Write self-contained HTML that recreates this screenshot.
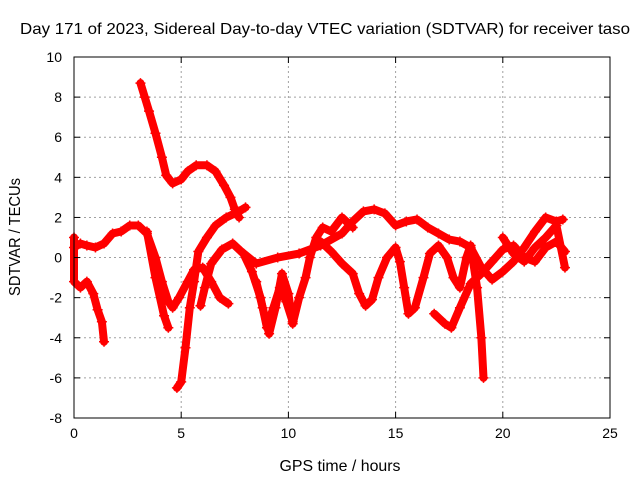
<!DOCTYPE html>
<html><head><meta charset="utf-8"><style>
body{margin:0;background:#fff}
svg{font-family:"Liberation Sans",sans-serif;font-size:14px}
</style></head><body>
<svg width="640" height="480" viewBox="0 0 640 480">
<rect width="640" height="480" fill="#fff"/>
<text x="325" y="34" text-anchor="middle" font-size="16" textLength="610" lengthAdjust="spacingAndGlyphs">Day 171 of 2023, Sidereal Day-to-day VTEC variation (SDTVAR) for receiver taso</text>
<text x="340" y="471" text-anchor="middle" font-size="16" textLength="121" lengthAdjust="spacingAndGlyphs">GPS time / hours</text>
<text transform="translate(20,237) rotate(-90)" text-anchor="middle" font-size="16" textLength="118" lengthAdjust="spacingAndGlyphs">SDTVAR / TECUs</text>
<g id="grid"></g><g id="marks"></g><g id="axes"></g>
<script>
const xTicks=[0,5,10,15,20,25];
const yTicks=[-8,-6,-4,-2,0,2,4,6,8,10];
const s1=[[3.1,8.7],[3.3,8.0],[3.5,7.3],[3.8,6.2],[4.1,5.0],[4.3,4.1],[4.6,3.7],[5.0,3.9],[5.3,4.3],[5.7,4.6],[6.2,4.6],[6.6,4.3],[7.0,3.6],[7.3,3.0],[7.5,2.4],[7.7,2.0]];
const s2=[[0,1.0],[0,-1.2],[0.3,-1.5],[0.6,-1.2],[0.9,-1.8],[1.1,-2.6],[1.3,-3.2],[1.4,-4.2]];
const s3=[[0,0.5],[0.3,0.7],[0.6,0.6],[1.0,0.5],[1.4,0.7],[1.8,1.2],[2.2,1.3],[2.6,1.6],[3.0,1.6],[3.4,1.2],[3.8,0],[4.1,-1.2],[4.4,-2.2],[4.6,-2.5],[4.9,-2.0],[5.3,-1.2],[5.6,-0.6],[6.0,-0.5],[6.4,-1.2],[6.8,-2.0],[7.2,-2.3]];
const s3b=[[3.4,1.3],[3.8,-1.0],[4.2,-2.9],[4.4,-3.5]];
const s4=[[4.8,-6.5],[5.0,-6.2],[5.2,-4.5],[5.4,-2.5],[5.6,-1.2],[5.8,0.3],[6.2,1.0],[6.6,1.6],[7.1,2.0],[7.7,2.3],[8.0,2.5]];
const s5=[[5.9,-2.4],[6.1,-1.5],[6.4,-0.3],[6.9,0.4],[7.4,0.7],[7.9,0.2],[8.3,-0.7],[8.7,-2.0],[9.0,-3.5],[9.3,-2.5],[9.6,-1.5],[9.9,-2.2],[10.2,-3.2]];
const s6=[[7.8,0.3],[8.5,-0.3],[9.5,0],[10.5,0.2],[11.5,0.6],[12.5,1.2],[13.0,1.8],[13.5,2.3],[14.0,2.4],[14.5,2.2],[15.0,1.6],[15.5,1.8],[16.0,1.9],[16.5,1.5],[17.0,1.2],[17.5,0.9],[18.0,0.8],[18.5,0.5],[19.0,-0.5],[19.5,-1.1],[20.0,-0.7],[20.5,-0.2],[21.0,0.5],[21.5,1.3],[22.0,2.0],[22.5,1.8],[22.8,1.9]];
const s7=[[11.5,0.8],[12.0,0.3],[12.5,-0.3],[13.0,-0.8],[13.3,-1.8],[13.6,-2.4],[13.9,-2.1],[14.2,-1.0],[14.6,0],[15.0,0.5],[15.2,-0.2],[15.4,-1.5],[15.6,-2.8],[15.9,-2.5],[16.3,-1.0],[16.6,0.2],[17.0,0.6],[17.4,0],[17.7,-1.0],[18.0,-1.5],[18.3,0],[18.5,0.6],[18.8,-1.5],[19.0,-4.0],[19.1,-6.0]];
const s8=[[16.8,-2.8],[17.3,-3.3],[17.6,-3.5],[18.0,-2.5],[18.5,-1.3],[19.0,-0.8],[19.5,-0.2],[20.0,0.4],[20.5,0.6],[21.0,0],[21.5,-0.2],[22.0,0.5],[22.5,0.8],[22.9,0.3]];
const s9=[[20.0,1.0],[20.5,0.2],[21.0,-0.2],[21.5,0.5],[22.0,1.0],[22.5,1.6],[22.9,-0.5]];
const s10=[[8.5,-1.2],[8.8,-2.5],[9.1,-3.8],[9.4,-2.5],[9.7,-0.8],[10.0,-1.8],[10.2,-3.3],[10.5,-2.0],[10.8,-1.0],[11.0,0],[11.3,1.0],[11.6,1.5],[12.0,1.3],[12.5,2.0],[13.0,1.5]];
const seriesList=[s1,s2,s3,s3b,s4,s5,s6,s7,s8,s9,s10];
const X0=74,X1=610,Y0=418,Y1=57;
const xs=v=>X0+(v-0)/(25-0)*(X1-X0);
const ys=v=>Y0-(v+8)/(18)*(Y0-Y1);
const NS="http://www.w3.org/2000/svg";
function mk(t,a,p){const e=document.createElementNS(NS,t);for(const k in a)e.setAttribute(k,a[k]);p.appendChild(e);return e;}
const grid=document.getElementById('grid'),marks=document.getElementById('marks'),axes=document.getElementById('axes');
mk('rect',{x:X0,y:Y1,width:X1-X0,height:Y0-Y1,fill:'none',stroke:'#000','stroke-width':1},axes);
xTicks.forEach(t=>{const x=xs(t);
 if(t>0&&t<25){const g=mk('line',{x1:x,x2:x,y1:Y0,y2:Y1,stroke:'#a0a0a0','stroke-dasharray':'2,3'},grid);}
 mk('line',{x1:x,x2:x,y1:Y0,y2:Y0-6,stroke:'#000'},axes);mk('line',{x1:x,x2:x,y1:Y1,y2:Y1+6,stroke:'#000'},axes);
 const l=mk('text',{x:x,y:Y0+20,'text-anchor':'middle'},axes);l.textContent=t;
 
 });
yTicks.forEach(t=>{const y=ys(t);
 if(t>-8&&t<10){const g=mk('line',{x1:X0,x2:X1,y1:y,y2:y,stroke:'#a0a0a0','stroke-dasharray':'2,3'},grid);}
 mk('line',{x1:X0,x2:X0+6,y1:y,y2:y,stroke:'#000'},axes);mk('line',{x1:X1,x2:X1-6,y1:y,y2:y,stroke:'#000'},axes);
 const l=mk('text',{x:X0-12,y:y+5,'text-anchor':'end'},axes);l.textContent=t;
 
 });
seriesList.forEach((s,i)=>{
 const p=mk('polyline',{points:s.map(d=>xs(d[0])+','+ys(d[1])).join(' '),fill:'none',stroke:'#f00','stroke-width':8,'stroke-linejoin':'round','stroke-linecap':'round'},marks);
 
 
 s.forEach(d=>{const x=xs(d[0]),y=ys(d[1]);
  const m=mk('path',{d:`M${x-5},${y}H${x+5}M${x},${y-5}V${y+5}`,stroke:'#f00','stroke-width':1.5},marks);
  
  });
});
</script>
</svg>
</body></html>
